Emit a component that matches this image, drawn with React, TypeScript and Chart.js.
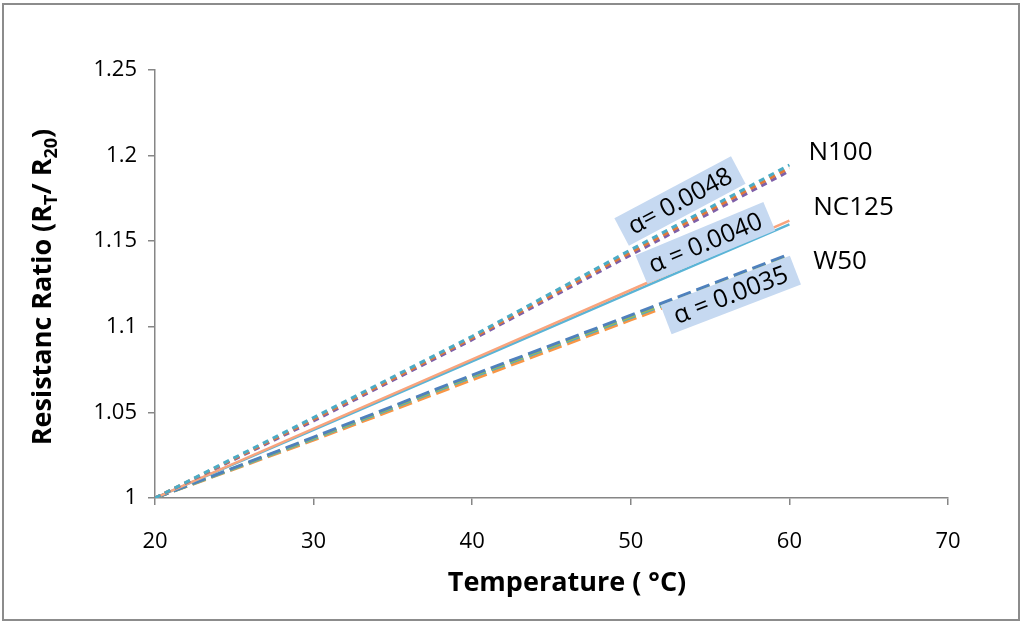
import React, { useEffect, useRef } from 'react';
import { Chart, registerables } from 'chart.js';

Chart.register(...registerables);

// Temperature (°C) at which the ratios were read
const temps = [20, 30, 40, 50, 60];

// N100 (alpha = 0.0048), dotted
const n100Teal = [1, 1.047, 1.0945, 1.145, 1.1945];
const n100Orange = [1, 1.046, 1.0935, 1.1435, 1.1928];
const n100Purple = [1, 1.045, 1.0925, 1.142, 1.191];

// NC125 (alpha = 0.0040), solid
const nc125Orange = [1, 1.0405, 1.081, 1.1215, 1.162];
const nc125Blue = [1, 1.0398, 1.0798, 1.12, 1.1598];

// W50 (alpha = 0.0035), long dash
const w50Blue = [1, 1.0355, 1.0718, 1.1068, 1.1425];
const w50Green = [1, 1.035, 1.0712, 1.106, 1.1412];
const w50Teal = [1, 1.0346, 1.0706, 1.1054, 1.1402];
const w50Orange = [1, 1.0338, 1.069, 1.104, 1.139];

const yTicks = [1, 1.05, 1.1, 1.15, 1.2, 1.25];

// series names at the right-hand end of each group
const groupLabels = [
  { text: 'N100', x: 61.2, y: 1.202 },
  { text: 'NC125', x: 61.5, y: 1.1694 },
  { text: 'W50', x: 61.5, y: 1.138 },
];

// the blue boxes with the temperature coefficients
const alphaLabels = [
  { text: '\u03b1= 0.0048', x: 53.1, y: 1.1735, angle: -28 },
  { text: '\u03b1 = 0.0040', x: 54.7, y: 1.149, angle: -22.6 },
  { text: '\u03b1 = 0.0035', x: 56.3, y: 1.1186, angle: -21 },
];

const FONT = '"Open Sans", "Liberation Sans", sans-serif';

const toPoints = (vals: number[]) => vals.map((v, i) => ({ x: temps[i], y: v }));

const overlay = {
  id: 'overlay',
  afterDatasetsDraw(chart: any) {
    const { ctx, scales } = chart;
    const xs = scales.x;
    const ys = scales.y;
    ctx.save();

    // coefficient boxes
    ctx.font = `25px ${FONT}`;
    alphaLabels.forEach((a) => {
      const px = xs.getPixelForValue(a.x);
      const py = ys.getPixelForValue(a.y);
      const w = ctx.measureText(a.text).width + 18;
      const h = 31;
      ctx.save();
      ctx.translate(px, py);
      ctx.rotate((a.angle * Math.PI) / 180);
      ctx.fillStyle = '#c6d9f1';
      ctx.fillRect(-w / 2, -h / 2, w, h);
      ctx.fillStyle = '#000';
      ctx.textAlign = 'center';
      ctx.textBaseline = 'middle';
      ctx.fillText(a.text, 0, 1);
      ctx.restore();
    });

    // group names
    ctx.font = `26px ${FONT}`;
    ctx.fillStyle = '#000';
    ctx.textAlign = 'left';
    ctx.textBaseline = 'middle';
    groupLabels.forEach((g) => {
      ctx.fillText(g.text, xs.getPixelForValue(g.x), ys.getPixelForValue(g.y));
    });

    // x axis title
    ctx.font = `bold 27px ${FONT}`;
    ctx.textAlign = 'center';
    ctx.fillText('Temperature ( \u00b0C)', 567, 583);

    // y axis title with subscripts
    const parts = [
      { t: 'Resistanc Ratio (R', sub: false },
      { t: 'T', sub: true },
      { t: '/ R', sub: false },
      { t: '20', sub: true },
      { t: ')', sub: false },
    ];
    const big = `bold 27px ${FONT}`;
    const small = `bold 18px ${FONT}`;
    let total = 0;
    parts.forEach((p) => {
      ctx.font = p.sub ? small : big;
      total += ctx.measureText(p.t).width;
    });
    ctx.translate(42, 287);
    ctx.rotate(-Math.PI / 2);
    ctx.textAlign = 'left';
    ctx.textBaseline = 'alphabetic';
    let cx = -total / 2;
    parts.forEach((p) => {
      ctx.font = p.sub ? small : big;
      ctx.fillText(p.t, cx, p.sub ? 15 : 9);
      cx += ctx.measureText(p.t).width;
    });
    ctx.restore();

    // outer frame
    ctx.save();
    ctx.strokeStyle = '#8c8c8c';
    ctx.lineWidth = 2;
    ctx.strokeRect(3, 4, 1016, 616);
    ctx.restore();
  },
};

const App: React.FC = () => {
  const canvasRef = useRef<HTMLCanvasElement>(null);
  const chartRef = useRef<Chart | null>(null);

  useEffect(() => {
    if (!canvasRef.current) return;
    if (chartRef.current) chartRef.current.destroy();

    const dotted = [6, 5];
    const longDash = [14, 6];

    const line = (label: string, vals: number[], color: string, dash: number[], width: number) => ({
      label,
      data: toPoints(vals),
      borderColor: color,
      backgroundColor: color,
      borderWidth: width,
      borderDash: dash,
      pointRadius: 0,
      tension: 0,
      fill: false,
    });

    chartRef.current = new Chart(canvasRef.current, {
      type: 'line',
      data: {
        datasets: [
          line('N100 a', n100Teal, '#4bacc6', dotted, 3),
          line('N100 b', n100Orange, '#e0793a', dotted, 3),
          line('N100 c', n100Purple, '#7f60a8', dotted, 3),
          line('NC125 a', nc125Orange, '#f9a47c', [], 2.5),
          line('NC125 b', nc125Blue, '#5ab4d6', [], 2.5),
          line('W50 a', w50Blue, '#4f81bd', longDash, 3),
          line('W50 b', w50Green, '#9bbb59', longDash, 3),
          line('W50 c', w50Teal, '#4bacc6', longDash, 3),
          line('W50 d', w50Orange, '#f79646', longDash, 3),
        ],
      },
      options: {
        responsive: true,
        maintainAspectRatio: false,
        animation: false,
        layout: { padding: { left: 0, right: 76, top: 70, bottom: 0 } },
        plugins: {
          legend: { display: false },
          tooltip: { enabled: false },
        },
        scales: {
          x: {
            type: 'linear',
            min: 20,
            max: 70,
            afterFit: (s: any) => {
              s.height = 129;
            },
            ticks: {
              stepSize: 10,
              padding: 24,
              color: '#000',
              font: { family: FONT, size: 22 },
            },
            grid: {
              drawOnChartArea: false,
              drawTicks: true,
              tickLength: 7,
              color: '#868686',
              lineWidth: 1.5,
            },
            border: { color: '#868686', width: 1.5 },
          },
          y: {
            type: 'linear',
            min: 1,
            max: 1.25,
            afterFit: (s: any) => {
              s.width = 155;
            },
            afterBuildTicks: (s: any) => {
              s.ticks = yTicks.map((v) => ({ value: v }));
            },
            ticks: {
              padding: 11,
              color: '#000',
              font: { family: FONT, size: 22 },
              callback: (v: any) => String(Number(Number(v).toFixed(2))),
            },
            grid: {
              drawOnChartArea: false,
              drawTicks: true,
              tickLength: 7,
              color: '#868686',
              lineWidth: 1.5,
            },
            border: { color: '#868686', width: 1.5 },
          },
        },
      },
      plugins: [overlay],
    });

    return () => {
      if (chartRef.current) {
        chartRef.current.destroy();
        chartRef.current = null;
      }
    };
  }, []);

  return (
    <div style={{ position: 'fixed', left: 0, top: 0, width: 1024, height: 627, background: '#fff' }}>
      <canvas ref={canvasRef}></canvas>
    </div>
  );
};

export default App;
